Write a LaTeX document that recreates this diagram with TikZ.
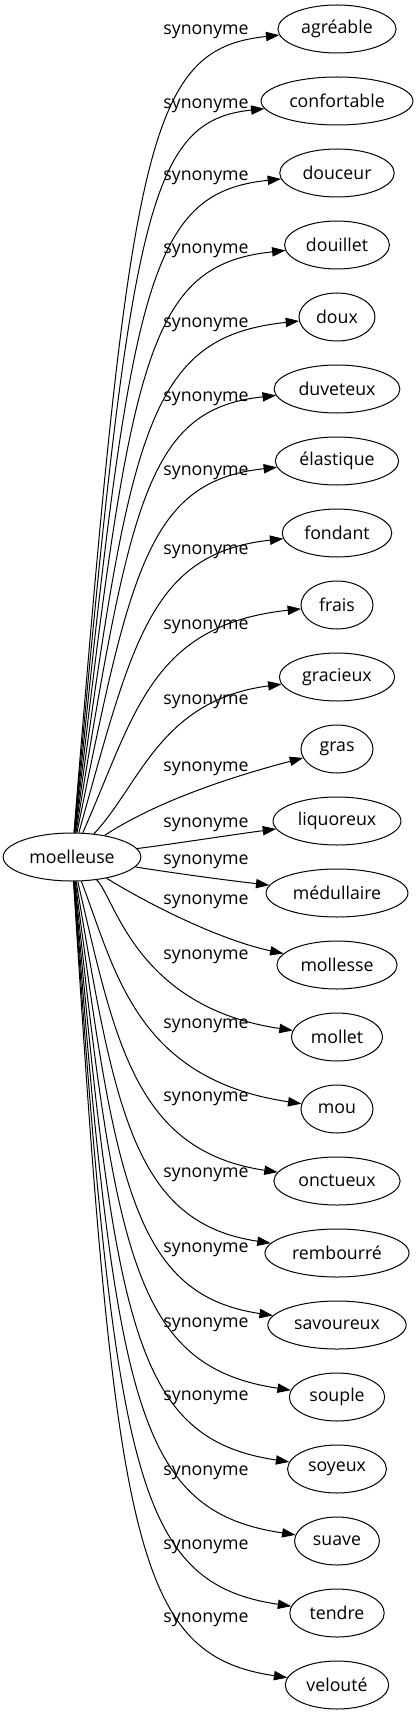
\documentclass[tikz,border=0pt]{standalone}
\usepackage{fontspec}
\setmainfont{Open Sans}
\usepackage{xcolor}
\usepackage{tikz}
\usetikzlibrary{shapes.geometric,arrows.meta}
\definecolor{ink}{HTML}{000000}
\tikzset{
  wordNode/.style={draw=ink, ellipse, line width=0.75pt, minimum width=54pt, minimum height=36pt, inner xsep=4.5pt, inner ysep=2pt, font=\fontsize{13.3}{16}\selectfont},
  synEdge/.style={draw=ink, line width=0.75pt, -{Triangle[length=10pt,width=7pt]}},
  synLabel/.style={text=ink, inner sep=0pt, font=\fontsize{13.3}{16}\selectfont}
}

\begin{document}
\begin{tikzpicture}[x=0.75pt,y=-0.75pt]
  \useasboundingbox (0,0) rectangle (416,1715);

  \node[wordNode] (moelleuse) at (72,857) {moelleuse};

  \node[wordNode] (agreable) at (337,29) {agréable};
  \node[wordNode] (confortable) at (337,101) {confortable};
  \node[wordNode] (douceur) at (337,173) {douceur};
  \node[wordNode] (douillet) at (337,245) {douillet};
  \node[wordNode] (doux) at (337,317) {doux};
  \node[wordNode] (duveteux) at (337,389) {duveteux};
  \node[wordNode] (elastique) at (337,461) {élastique};
  \node[wordNode] (fondant) at (337,533) {fondant};
  \node[wordNode] (frais) at (337,605) {frais};
  \node[wordNode] (gracieux) at (337,677) {gracieux};
  \node[wordNode] (gras) at (337,749) {gras};
  \node[wordNode] (liquoreux) at (337,821) {liquoreux};
  \node[wordNode] (medullaire) at (337,893) {médullaire};
  \node[wordNode] (mollesse) at (337,965) {mollesse};
  \node[wordNode] (mollet) at (337,1037) {mollet};
  \node[wordNode] (mou) at (337,1109) {mou};
  \node[wordNode] (onctueux) at (337,1181) {onctueux};
  \node[wordNode] (rembourre) at (337,1253) {rembourré};
  \node[wordNode] (savoureux) at (337,1325) {savoureux};
  \node[wordNode] (souple) at (337,1397) {souple};
  \node[wordNode] (soyeux) at (337,1469) {soyeux};
  \node[wordNode] (suave) at (337,1541) {suave};
  \node[wordNode] (tendre) at (337,1613) {tendre};
  \node[wordNode] (veloute) at (337,1685) {velouté};

  \draw[synEdge] (moelleuse) .. controls (130,139) and (148,49) .. (agreable);
  \draw[synEdge] (moelleuse) .. controls (130,211) and (148,121) .. (confortable);
  \draw[synEdge] (moelleuse) .. controls (130,283) and (148,193) .. (douceur);
  \draw[synEdge] (moelleuse) .. controls (130,355) and (148,265) .. (douillet);
  \draw[synEdge] (moelleuse) .. controls (130,427) and (148,337) .. (doux);
  \draw[synEdge] (moelleuse) .. controls (130,499) and (148,409) .. (duveteux);
  \draw[synEdge] (moelleuse) .. controls (130,571) and (148,481) .. (elastique);
  \draw[synEdge] (moelleuse) .. controls (132,643) and (150,553) .. (fondant);
  \draw[synEdge] (moelleuse) .. controls (135,715) and (150,625) .. (frais);
  \draw[synEdge] (moelleuse) .. controls (140,785) and (160,700) .. (gracieux);
  \draw[synEdge] (moelleuse) .. controls (140,812) and (200,785) .. (gras);
  \draw[synEdge] (moelleuse) .. controls (180,843) and (230,835) .. (liquoreux);
  \draw[synEdge] (moelleuse) .. controls (180,874) and (225,880) .. (medullaire);
  \draw[synEdge] (moelleuse) .. controls (150,905) and (220,940) .. (mollesse);
  \draw[synEdge] (moelleuse) .. controls (115,897) and (135,1007) .. (mollet);
  \draw[synEdge] (moelleuse) .. controls (115,969) and (135,1079) .. (mou);
  \draw[synEdge] (moelleuse) .. controls (115,1041) and (135,1151) .. (onctueux);
  \draw[synEdge] (moelleuse) .. controls (115,1113) and (135,1223) .. (rembourre);
  \draw[synEdge] (moelleuse) .. controls (115,1185) and (135,1295) .. (savoureux);
  \draw[synEdge] (moelleuse) .. controls (115,1257) and (135,1367) .. (souple);
  \draw[synEdge] (moelleuse) .. controls (115,1329) and (135,1439) .. (soyeux);
  \draw[synEdge] (moelleuse) .. controls (115,1401) and (135,1511) .. (suave);
  \draw[synEdge] (moelleuse) .. controls (115,1473) and (135,1583) .. (tendre);
  \draw[synEdge] (moelleuse) .. controls (115,1545) and (135,1655) .. (veloute);

  \node[synLabel] (s01) at (206,32) {synonyme};
  \node[synLabel] (s02) at (206,106) {synonyme};
  \node[synLabel] (s03) at (206,178) {synonyme};
  \node[synLabel] (s04) at (206,251) {synonyme};
  \node[synLabel] (s05) at (206,325) {synonyme};
  \node[synLabel] (s06) at (206,399) {synonyme};
  \node[synLabel] (s07) at (206,473) {synonyme};
  \node[synLabel] (s08) at (206,552) {synonyme};
  \node[synLabel] (s09) at (206,627) {synonyme};
  \node[synLabel] (s10) at (206,702) {synonyme};
  \node[synLabel] (s11) at (206,769) {synonyme};
  \node[synLabel] (s12) at (206,825) {synonyme};
  \node[synLabel] (s13) at (206,862) {synonyme};
  \node[synLabel] (s14) at (206,902) {synonyme};
  \node[synLabel] (s15) at (206,957) {synonyme};
  \node[synLabel] (s16) at (206,1026) {synonyme};
  \node[synLabel] (s17) at (206,1099) {synonyme};
  \node[synLabel] (s18) at (206,1175) {synonyme};
  \node[synLabel] (s19) at (206,1250) {synonyme};
  \node[synLabel] (s20) at (206,1325) {synonyme};
  \node[synLabel] (s21) at (206,1398) {synonyme};
  \node[synLabel] (s22) at (206,1473) {synonyme};
  \node[synLabel] (s23) at (206,1547) {synonyme};
  \node[synLabel] (s24) at (206,1620) {synonyme};
\end{tikzpicture}
\end{document}
